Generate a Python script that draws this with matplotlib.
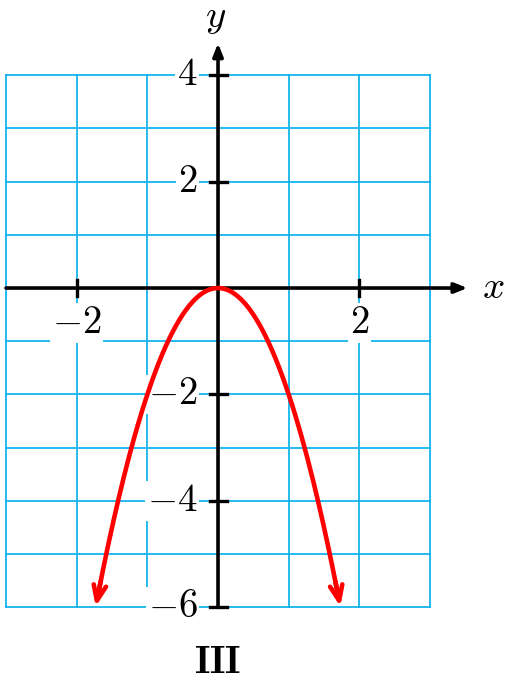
import matplotlib.pyplot as plt
import numpy as np

plt.rcParams["mathtext.fontset"] = "cm"
plt.rcParams["font.family"] = "serif"
plt.rcParams["font.serif"] = ["cmr10", "DejaVu Serif"]
plt.rcParams["axes.formatter.use_mathtext"] = True

# curve y = a * x^2 drawn between the two arrow ends
coef_a = -2.0
x_end = 1.73

grid_x = [-3, -2, -1, 0, 1, 2, 3]
grid_y = [-6, -5, -4, -3, -2, -1, 0, 1, 2, 3, 4]
xtick_vals = [-2, 2]
xtick_labels = [r"$-2$", r"$2$"]
ytick_vals = [4, 2, -2, -4, -6]
ytick_labels = [r"$4$", r"$2$", r"$-2$", r"$-4$", r"$-6$"]
panel_label = r"$\mathbf{III}$"

GRID = "#00aeef"
FS = 28

fig = plt.figure(figsize=(5.13, 6.8), dpi=100)
ax = fig.add_axes([0, 0, 1, 1])
ax.set_xlim(-3.085, 4.174)
ax.set_ylim(-7.368, 5.414)
ax.axis("off")

# grid
for gx in grid_x:
    ax.plot([gx, gx], [grid_y[0], grid_y[-1]], color=GRID, lw=1.2, zorder=1)
for gy in grid_y:
    ax.plot([grid_x[0], grid_x[-1]], [gy, gy], color=GRID, lw=1.2, zorder=1)

# axes with arrows
axstyle = dict(arrowstyle="-|>,head_length=0.75,head_width=0.3",
               color="black", lw=2.6, shrinkA=0, shrinkB=0)
ax.annotate("", xy=(3.53, 0), xytext=(-3.0, 0), arrowprops=axstyle, zorder=3)
ax.annotate("", xy=(0, 4.6), xytext=(0, -6.0), arrowprops=axstyle, zorder=3)
ax.text(3.9, 0, r"$x$", fontsize=FS, ha="center", va="center")
ax.text(-0.04, 5.07, r"$y$", fontsize=FS, ha="center", va="center")

# ticks and labels
bb = dict(facecolor="white", edgecolor="none", pad=1.5)
for v, lab in zip(xtick_vals, xtick_labels):
    ax.plot([v, v], [-0.15, 0.15], color="black", lw=2.4, zorder=3)
    ax.text(v, -0.66, lab, fontsize=FS, ha="center", va="center", bbox=bb, zorder=2)
for v, lab in zip(ytick_vals, ytick_labels):
    ax.plot([-0.12, 0.12], [v, v], color="black", lw=2.4, zorder=3)
    ax.text(-0.29, v, lab, fontsize=FS, ha="right", va="center", bbox=bb, zorder=2)

# parabola
xs = np.linspace(-x_end, x_end, 300)
ys = coef_a * xs ** 2
ax.plot(xs[4:-4], ys[4:-4], color="red", lw=3.3, zorder=4, solid_capstyle="butt")
astyle = dict(arrowstyle="->,head_length=1.1,head_width=0.45", color="red",
              lw=3.3, shrinkA=0, shrinkB=0)
ax.annotate("", xy=(xs[0], ys[0]), xytext=(xs[6], ys[6]), arrowprops=astyle, zorder=4)
ax.annotate("", xy=(xs[-1], ys[-1]), xytext=(xs[-7], ys[-7]), arrowprops=astyle, zorder=4)

ax.text(0, -7.05, panel_label, fontsize=FS, ha="center", va="center")

fig.savefig("out.png", dpi=100)
